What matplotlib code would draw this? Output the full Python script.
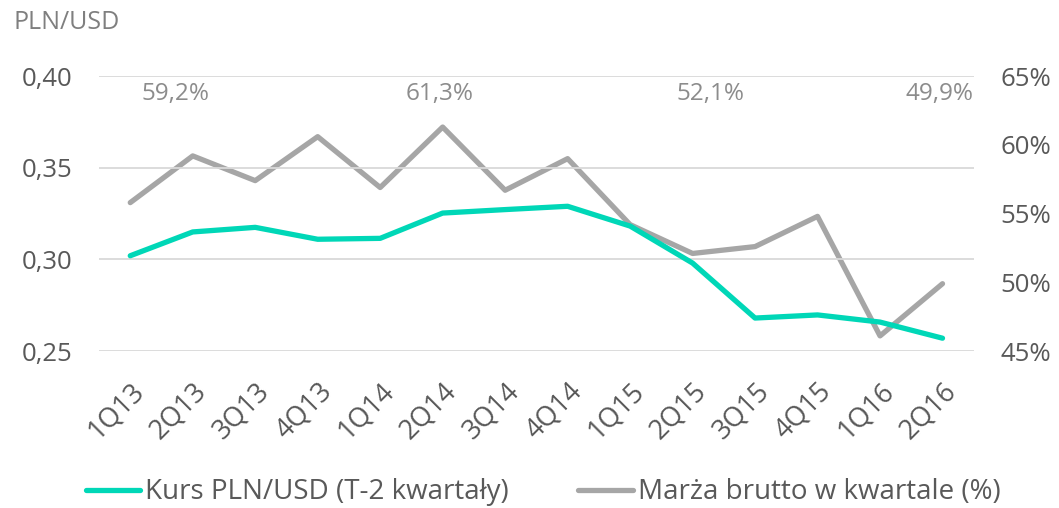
import matplotlib
matplotlib.use('Agg')
import matplotlib.pyplot as plt
from matplotlib.ticker import FuncFormatter

plt.rcParams['font.family'] = ['Open Sans', 'DejaVu Sans']

quarters = ['1Q13', '2Q13', '3Q13', '4Q13', '1Q14', '2Q14', '3Q14',
            '4Q14', '1Q15', '2Q15', '3Q15', '4Q15', '1Q16', '2Q16']
kurs = [0.302, 0.315, 0.3175, 0.311, 0.3115, 0.3253, 0.3272, 0.329,
        0.3182, 0.298, 0.268, 0.2697, 0.2658, 0.257]
marza = [55.8, 59.2, 57.4, 60.6, 56.9, 61.3, 56.7, 59.0,
         54.2, 52.1, 52.6, 54.8, 46.1, 49.9]
label_idx = [1, 5, 9, 13]
label_shift = [-0.28, -0.05, 0.28, -0.05]

teal = '#00D7B7'
grey = '#A6A6A6'
txt = '#595959'

fig = plt.figure(figsize=[10.59, 5.08], dpi=100)
ax1 = fig.add_axes([0.0935, 0.309, 0.826, 0.541])
ax2 = ax1.twinx()

x = list(range(len(quarters)))
l1, = ax1.plot(x, kurs, color=teal, lw=3.8, solid_capstyle='round',
               label='Kurs PLN/USD (T-2 kwartały)', zorder=3)
l2, = ax2.plot(x, marza, color=grey, lw=3.8, solid_capstyle='round',
               label='Marża brutto w kwartale (%)', zorder=3)
ax1.set_zorder(ax2.get_zorder() + 1)
ax1.patch.set_visible(False)

ax1.set_xlim(-0.5, len(quarters) - 0.5)
ax1.set_ylim(0.25, 0.40)
ax1.set_yticks([0.25, 0.30, 0.35, 0.40])
ax1.yaxis.set_major_formatter(FuncFormatter(lambda v, p: f'{v:.2f}'.replace('.', ',')))
ax2.set_ylim(45, 65)
ax2.set_yticks([45, 50, 55, 60, 65])
ax2.yaxis.set_major_formatter(FuncFormatter(lambda v, p: f'{v:.0f}%'))

ax1.grid(axis='y', color='#D9D9D9', lw=1.3)
ax1.set_axisbelow(True)
for a in (ax1, ax2):
    for s in a.spines.values():
        s.set_visible(False)
    a.tick_params(length=0, labelsize=18.5, labelcolor=txt)
ax1.tick_params(axis='y', pad=19)
ax2.tick_params(axis='y', pad=19)

ax1.set_xticks(x)
ax1.set_xticklabels(quarters, rotation=45, ha='right', rotation_mode='anchor',
                    fontsize=19.5, color=txt)
ax1.tick_params(axis='x', pad=19)

for i, dx in zip(label_idx, label_shift):
    ax2.text(i + dx, 63.7, f'{marza[i]:.1f}%'.replace('.', ','), ha='center',
             va='center', fontsize=17.5, color='#8C8C8C')

fig.text(0.013, 0.955, 'PLN/USD', fontsize=18, color='#7F7F7F', va='center')

fig.legend(handles=[l1, l2], loc='center', bbox_to_anchor=(0.513, 0.031),
           ncol=2, frameon=False, fontsize=20, labelcolor=txt,
           handlelength=1.95, handletextpad=0.2, columnspacing=2.5)

fig.savefig('out.png', dpi=100)
